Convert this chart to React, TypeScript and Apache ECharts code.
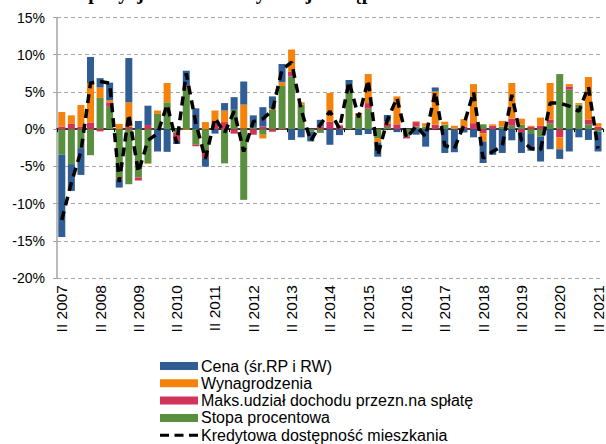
import React, { useEffect, useRef } from "react";
import * as echarts from "echarts";

const categories = [
  "II 2007", "III 2007", "IV 2007",
  "I 2008", "II 2008", "III 2008", "IV 2008",
  "I 2009", "II 2009", "III 2009", "IV 2009",
  "I 2010", "II 2010", "III 2010", "IV 2010",
  "I 2011", "II 2011", "III 2011", "IV 2011",
  "I 2012", "II 2012", "III 2012", "IV 2012",
  "I 2013", "II 2013", "III 2013", "IV 2013",
  "I 2014", "II 2014", "III 2014", "IV 2014",
  "I 2015", "II 2015", "III 2015", "IV 2015",
  "I 2016", "II 2016", "III 2016", "IV 2016",
  "I 2017", "II 2017", "III 2017", "IV 2017",
  "I 2018", "II 2018", "III 2018", "IV 2018",
  "I 2019", "II 2019", "III 2019", "IV 2019",
  "I 2020", "II 2020", "III 2020", "IV 2020",
  "I 2021", "II 2021",
];

const cena = [
  -11.05, -3.6, -3.6, 3.5, 1.25, 2.35, -1.05, 5.95, 1.1, 2.6, -3.0,
  -3.05, -0.4, 2.0, 2.8, -1.15, -0.6, 1.0, 1.7, 3.1, 1.55, 2.6, 1.6,
  2.45, -1.45, -1.1, -1.35, 0.9, -2.1, -0.8, 0.95, -0.8, -0.65, -1.9, 0.9,
  -0.4, 0, -0.75, -2.35, 0.55, -3.2, -3.1, -0.45, -1.1, -2.9, -3.45, -3.2,
  -1.5, -2.8, -2.25, -3.35, -2.7, -1.3, -3.0, -1.1, -1.45, -2.65,
];

const wynagrodzenia = [
  1.95, 1.15, 2.95, 5.3, 1.4, 0.3, 0.7, 3.3, 0, -0.1, 0.45,
  2.6, 0, -0.1, 0, 0.95, 1.8, 1.55, 0, 3.2, 0, -0.5, 0.2,
  0.5, 3.0, 0.3, 0, 0, 3.85, 0.1, 0.25, 0.4, 3.9, -0.6, 0.3,
  3.75, 0, 0.1, 0.45, 4.45, 0.4, 0.45, 1.0, 5.25, -1.1, 0.2, 0.75,
  4.8, 0.8, 0.15, 1.1, 4.95, -1.6, 0.3, 0.2, 5.75, 0.45,
];

const maksUdzial = [
  0.35, 0.7, 0.3, 0.9, -0.3, 0.6, -0.2, 0.3, -0.4, 0.55, 0,
  0, -1.1, 0.25, -0.2, -0.9, 0.7, 0.95, -0.6, 0.1, -0.75, 0.35, -0.35,
  -0.1, 0.6, 0, 0, 0.35, 1.0, 0.5, 0.2, 0, 0.75, 0, 0.4,
  0.65, -0.25, 0.6, 0, 0.6, 0, 0, 0.35, 0.8, -0.55, 0.45, 0,
  0.95, -0.4, 0.3, 0.45, 0.45, -1.1, 0.45, 0, 0.6, 0.35,
];

const stopa = [
  -3.45, -4.7, -2.55, -3.5, 4.2, 3.0, -6.6, -7.4, -6.5, -4.55, 2.05,
  3.6, -0.5, 5.6, -2.1, -3.0, 0, -4.6, 2.6, -9.5, 0.3, -0.75, 2.6,
  5.8, 7.1, 3.3, -0.3, -0.5, 0, 0, 5.2, 1.75, 2.75, -1.2, 0.3,
  0, -1.0, 0.35, 0.35, 0, 0.6, 0, 0, 0, 0.65, 0, 0.35,
  0.45, 0.6, -0.65, -1.0, 0.8, 7.4, 5.3, 3.3, 0.65, -0.35,
];

const kredytowa = [
  -12.2, -7.2, -3.0, 6.2, 6.4, 6.2, -7.1, 2.0, -5.8, -1.5, -0.6,
  3.3, -1.9, 7.5, 0.8, -4.0, 1.5, -0.5, 2.4, -3.0, 1.0, 1.4, 2.5,
  8.0, 9.0, 2.6, -1.6, 0.6, 2.4, 0.1, 6.4, 1.6, 6.6, -3.5, 1.2,
  4.2, -1.2, 0.4, -1.0, 5.0, -2.2, -2.6, 0.6, 5.0, -3.9, -3.0, -2.3,
  4.6, -1.5, -2.6, -2.8, 3.5, 3.5, 3.1, 2.4, 5.7, -2.6,
];

const yTicks = { min: -20, max: 15, step: 5 };

const NAMES = {
  cena: "Cena (śr.RP i RW)",
  wyn: "Wynagrodzenia",
  maks: "Maks.udział dochodu przezn.na spłatę",
  stopa: "Stopa procentowa",
  kred: "Kredytowa dostępność mieszkania",
};

const TITLE = "Dekompozycja zmian kredytowej dostępności mieszkania";

const DASH_ICON =
  "path://M0,0h0.01v0.01h-0.01z M0,7.99h0.01v0.01h-0.01z M0,2.5h9v3h-9z M14.5,2.5h9v3h-9z M29,2.5h9v3h-9z";

export default function App() {
  const ref = useRef<HTMLDivElement>(null);
  useEffect(() => {
    if (!ref.current) return;
    const chart = echarts.init(ref.current, null, { renderer: "svg" });
    const font = "Arial, 'Liberation Sans', sans-serif";
    const bar = (name: string, data: number[], color: string) => ({
      name,
      type: "bar",
      stack: "total",
      data,
      barWidth: 7,
      xAxisIndex: 0,
      itemStyle: { color },
      emphasis: { disabled: true },
    });
    chart.setOption({
      animation: false,
      textStyle: { fontFamily: font },
      graphic: [
        {
          type: "text",
          x: 272,
          y: 1.5,
          silent: true,
          style: {
            text: TITLE,
            font: "bold 20px 'Liberation Serif', 'Times New Roman', serif",
            fill: "#000",
            textAlign: "center",
            align: "center",
            textVerticalAlign: "bottom",
            verticalAlign: "bottom",
          },
        },
      ],
      grid: { left: 57, right: 2, top: 17.5, bottom: 166, containLabel: false },
      legend: {
        orient: "vertical",
        left: 160,
        top: 358,
        padding: 0,
        itemWidth: 38,
        itemHeight: 8,
        itemGap: 1.3,
        selectedMode: false,
        textStyle: { fontSize: 16, lineHeight: 16, color: "#000", fontFamily: font, padding: [0, 0, 0, -2] },
        data: [
          { name: NAMES.cena, icon: "rect" },
          { name: NAMES.wyn, icon: "rect" },
          { name: NAMES.maks, icon: "rect" },
          { name: NAMES.stopa, icon: "rect" },
          { name: NAMES.kred, icon: DASH_ICON, itemStyle: { color: "#000" } },
        ],
      },
      xAxis: [
        {
          type: "category",
          data: categories,
          axisLine: { onZero: true, lineStyle: { color: "#000", width: 1.5 } },
          axisTick: { show: true, length: 3, lineStyle: { color: "#000", width: 1 } },
          axisLabel: { show: false },
          splitLine: { show: false },
        },
        {
          type: "category",
          data: categories,
          position: "bottom",
          axisLine: { show: false, onZero: false },
          axisTick: { show: false },
          splitLine: { show: false },
          axisLabel: {
            rotate: 90,
            interval: 3,
            fontSize: 15.5,
            color: "#000",
            margin: 7,
            fontFamily: font,
          },
        },
      ],
      yAxis: {
        type: "value",
        min: yTicks.min,
        max: yTicks.max,
        interval: yTicks.step,
        axisLabel: { formatter: "{value}%", fontSize: 14, color: "#000", margin: 12, fontFamily: font },
        axisLine: { show: true, lineStyle: { color: "#A6A6A6", width: 1.5 } },
        axisTick: { show: true, length: 4, lineStyle: { color: "#A6A6A6" } },
        splitLine: { show: true, lineStyle: { color: "#A6A6A6", width: 1, type: [4, 3] } },
      },
      series: [
        bar(NAMES.stopa, stopa, "#5A8F3F"),
        bar(NAMES.maks, maksUdzial, "#D1335A"),
        bar(NAMES.wyn, wynagrodzenia, "#F5820A"),
        bar(NAMES.cena, cena, "#305D94"),
        {
          name: NAMES.kred,
          type: "line",
          data: kredytowa,
          xAxisIndex: 0,
          symbol: "none",
          z: 10,
          itemStyle: { color: "#000" },
          lineStyle: { color: "#000", width: 3.5, type: [9, 6] },
          emphasis: { disabled: true },
        },
      ],
    });
    return () => chart.dispose();
  }, []);
  return (
    <div
      ref={ref}
      style={{ position: "absolute", left: 0, top: 0, width: 606, height: 444 }}
    />
  );
}
